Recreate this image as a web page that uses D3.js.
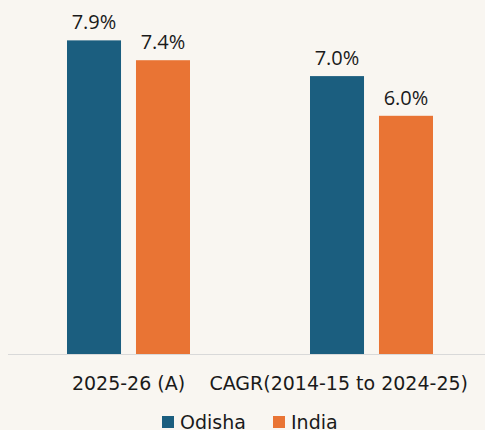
<!DOCTYPE html>
<html>
<head>
<meta charset="utf-8">
<script src="https://cdn.jsdelivr.net/npm/d3@7"></script>
<style>
  html, body { margin: 0; padding: 0; background: #f9f6f1; }
  svg { display: block; font-family: "DejaVu Sans", sans-serif; }
</style>
</head>
<body>
<div id="chart"></div>
<script>
// data
const categories = ["2025-26 (A)", "CAGR(2014-15 to 2024-25)"];
const seriesNames = ["Odisha", "India"];
const odisha = [7.9, 7.0];
const india = [7.4, 6.0];
const seriesColors = ["#1b5e7f", "#e97434"];

const WIDTH = 485, HEIGHT = 430;
const MARGIN = {left: 7, right: -8, top: 36, bottom: 76};

let svg = d3.select('#chart')
  .append('svg')
  .attr('width', WIDTH)
  .attr('height', HEIGHT);

svg.append('rect')
  .attr('width', WIDTH)
  .attr('height', HEIGHT)
  .attr('fill', '#f9f6f1');

const rows = categories.map((c, i) => ({cat: c, values: [odisha[i], india[i]]}));

//scales
const x0 = d3.scaleBand()
  .domain(categories)
  .range([MARGIN.left, WIDTH - MARGIN.right]);

const x1 = d3.scaleBand()
  .domain(seriesNames)
  .range([-61.5, 61.5])
  .paddingInner(0.217);

const yScale = d3.scaleLinear()
  .domain([0, 8])
  .range([HEIGHT - MARGIN.bottom, HEIGHT - MARGIN.bottom - 8 * 39.7]);

const color = d3.scaleOrdinal().domain(seriesNames).range(seriesColors);

// baseline
svg.append('line')
  .attr('x1', 8)
  .attr('x2', WIDTH)
  .attr('y1', yScale(0) + 0.5)
  .attr('y2', yScale(0) + 0.5)
  .attr('stroke', '#d9d9d9')
  .attr('stroke-width', 1);

// bars
let groups = svg.selectAll('g.group')
  .data(rows)
  .join('g')
  .attr('class', 'group')
  .attr('transform', d => `translate(${x0(d.cat) + x0.bandwidth() / 2},0)`);

let cells = groups.selectAll('g.cell')
  .data(d => d.values.map((v, i) => ({name: seriesNames[i], value: v})))
  .join('g')
  .attr('class', 'cell');

cells.append('rect')
  .attr('x', d => x1(d.name))
  .attr('width', x1.bandwidth())
  .attr('y', d => yScale(d.value))
  .attr('height', d => yScale(0) - yScale(d.value))
  .attr('fill', d => color(d.name));

cells.append('text')
  .attr('x', d => x1(d.name) + x1.bandwidth() / 2)
  .attr('y', d => yScale(d.value) - 11)
  .attr('text-anchor', 'middle')
  .attr('font-family', '"Open Sans", sans-serif')
  .attr('font-size', 20)
  .attr('fill', '#1a1a1a')
  .text(d => d.value.toFixed(1) + '%');

// category labels (kept inside the frame)
svg.selectAll('text.cat')
  .data(categories)
  .join('text')
  .attr('class', 'cat')
  .attr('y', 390)
  .attr('font-size', 19)
  .attr('fill', '#1a1a1a')
  .attr('text-anchor', 'middle')
  .text(d => d)
  .attr('x', function(d) {
    const c = x0(d) + x0.bandwidth() / 2;
    const w = this.getComputedTextLength();
    return Math.min(c, WIDTH - 17 - w / 2);
  });

// legend
const legendItems = [{name: "Odisha", x: 162}, {name: "India", x: 273}];
let legend = svg.selectAll('g.legend')
  .data(legendItems)
  .join('g')
  .attr('class', 'legend')
  .attr('transform', d => `translate(${d.x},0)`);

legend.append('rect')
  .attr('y', 416)
  .attr('width', 12)
  .attr('height', 12)
  .attr('fill', d => color(d.name));

legend.append('text')
  .attr('x', 18)
  .attr('y', 428.5)
  .attr('font-size', 19)
  .attr('fill', '#1a1a1a')
  .text(d => d.name);
</script>
</body>
</html>
